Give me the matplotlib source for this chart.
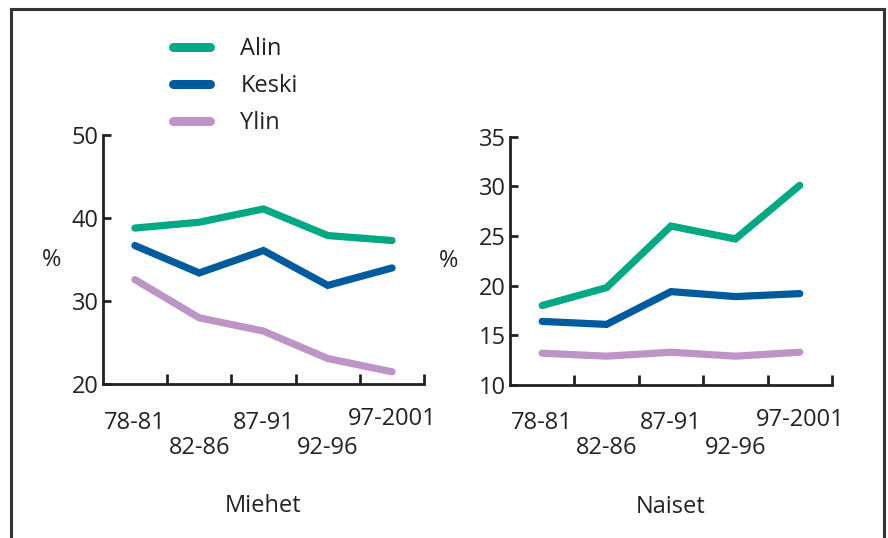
import numpy as np
from matplotlib import pyplot as plt
from matplotlib.lines import Line2D

plt.rcParams['font.family'] = ['Open Sans', 'DejaVu Sans']

# data
periods = ['78-81', '82-86', '87-91', '92-96', '97-2001']
series = ['Alin', 'Keski', 'Ylin']
colors = ['#00a884', '#005a9e', '#bc94c6']

miehet_alin = [38.8, 39.5, 41.1, 37.9, 37.3]
miehet_keski = [36.7, 33.4, 36.1, 31.9, 34.0]
miehet_ylin = [32.6, 28.0, 26.4, 23.1, 21.5]

naiset_alin = [18.0, 19.8, 26.0, 24.7, 30.1]
naiset_keski = [16.4, 16.1, 19.4, 18.9, 19.2]
naiset_ylin = [13.2, 12.9, 13.3, 12.9, 13.3]

fs = 17
lw = 5.2
tcol = '#222222'

fig = plt.figure(figsize=(8.88, 5.38), dpi=100)

# outer frame (bottom edge runs off the picture)
fcol = '#333333'
fig.add_artist(Line2D([0.0125, 0.0125], [0.0, 0.983], color=fcol, lw=2.2, transform=fig.transFigure))
fig.add_artist(Line2D([0.0125, 0.9955], [0.983, 0.983], color=fcol, lw=2.2, transform=fig.transFigure))
fig.add_artist(Line2D([0.9955, 0.9955], [0.0, 0.983], color=fcol, lw=2.2, transform=fig.transFigure))

ax1 = fig.add_axes([0.1157, 0.2857, 0.362, 0.4634])
ax2 = fig.add_axes([0.5743, 0.2844, 0.3626, 0.4616])

x = np.arange(len(periods)) + 0.5
panels = [
    (ax1, [miehet_alin, miehet_keski, miehet_ylin], (20, 50), [20, 30, 40, 50], 'Miehet', -0.158),
    (ax2, [naiset_alin, naiset_keski, naiset_ylin], (10, 35), [10, 15, 20, 25, 30, 35], 'Naiset', -0.19),
]

for ax, data, ylim, yticks, title, pct_x in panels:
    for vals, c, name in zip(data, colors, series):
        ax.plot(x, vals, color=c, lw=lw, solid_capstyle='round',
                solid_joinstyle='miter', label=name, clip_on=False)
    ax.set_xlim(0, len(periods))
    ax.set_ylim(*ylim)
    ax.set_yticks(yticks)
    ax.set_xticks(np.arange(1, len(periods) + 1))
    ax.set_xticklabels([])
    # staggered period labels
    trans = ax.get_xaxis_transform()
    for i, p in enumerate(periods):
        yy = -0.155 if i % 2 == 0 else -0.255
        if i == len(periods) - 1:
            yy = -0.14
        ax.text(x[i], yy, p, transform=trans, ha='center', va='center',
                fontsize=fs, color=tcol)
    ax.tick_params(axis='x', which='major', direction='in', length=7, width=2, color=tcol)
    ax.tick_params(axis='y', direction='in', length=6, width=2, pad=3, labelsize=fs,
                   color=tcol, labelcolor=tcol)
    for s in ['top', 'right']:
        ax.spines[s].set_visible(False)
    for s in ['left', 'bottom']:
        ax.spines[s].set_linewidth(2)
        ax.spines[s].set_color(tcol)
    ax.text(pct_x, 0.5, '%', transform=ax.transAxes, fontsize=fs, ha='center', va='center',
            color=tcol)
    ax.text(0.5, -0.49, title, transform=ax.transAxes, fontsize=fs, ha='center', va='center',
            color=tcol)

leg_handles = [Line2D([0], [0], color=c, lw=6.5, solid_capstyle='round') for c in colors]
fig.legend(leg_handles, series, loc='upper left', bbox_to_anchor=(0.171, 0.97),
           frameon=False, fontsize=fs, handlelength=1.55, handletextpad=1.3,
           labelspacing=0.55, labelcolor=tcol)

fig.savefig('out.png', dpi=100)
